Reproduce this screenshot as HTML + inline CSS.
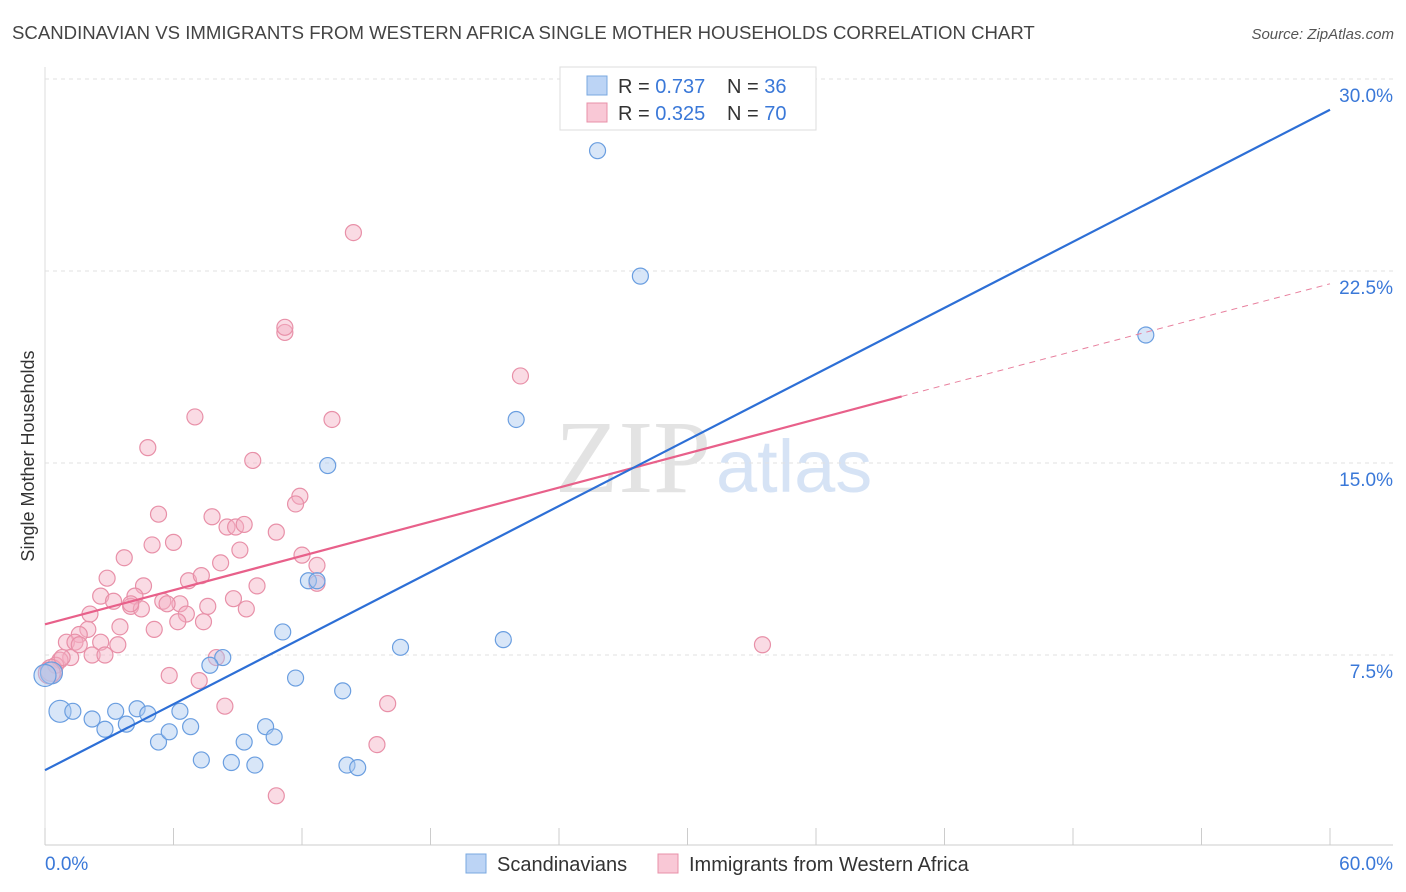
<!DOCTYPE html>
<html><head><meta charset="utf-8">
<style>
body{margin:0;background:#fff;font-family:"Liberation Sans",sans-serif;}
svg{display:block}
</style></head>
<body>
<svg id="chart" width="1406" height="892">
<text x="12" y="39" font-size="18.6" fill="#444">SCANDINAVIAN VS IMMIGRANTS FROM WESTERN AFRICA SINGLE MOTHER HOUSEHOLDS CORRELATION CHART</text>
<text x="1394" y="39" font-size="15" fill="#555" font-style="italic" text-anchor="end">Source: ZipAtlas.com</text>
<text transform="translate(34,456) rotate(-90)" font-size="18" fill="#333" text-anchor="middle">Single Mother Households</text>
<g opacity="0.4">
<text x="555" y="492" font-size="104" font-family="Liberation Serif,serif" fill="#bbb">ZIP</text>
<text x="716" y="492" font-size="74" fill="#9bbbe8">atlas</text>
</g>
<g id="grid"></g>
<g id="axes"></g>
<g id="pts"></g>
<g id="lines"></g>
<g>
<rect x="560" y="67" width="256" height="63" fill="#fff" stroke="#ddd"/>
<rect x="587" y="76" width="20" height="19" fill="#bcd4f5" stroke="#7aa8e0"/>
<rect x="587" y="103" width="20" height="19" fill="#f9c8d6" stroke="#e890a8"/>
<text x="618" y="93" font-size="20" fill="#333">R = <tspan fill="#3a78d8">0.737</tspan></text>
<text x="727" y="93" font-size="20" fill="#333">N = <tspan fill="#3a78d8">36</tspan></text>
<text x="618" y="120" font-size="20" fill="#333">R = <tspan fill="#3a78d8">0.325</tspan></text>
<text x="727" y="120" font-size="20" fill="#333">N = <tspan fill="#3a78d8">70</tspan></text>
</g>
<g>
<rect x="466" y="854" width="20" height="19" fill="#bcd4f5" stroke="#7aa8e0"/>
<text x="497" y="871" font-size="20" fill="#333">Scandinavians</text>
<rect x="658" y="854" width="20" height="19" fill="#f9c8d6" stroke="#e890a8"/>
<text x="689" y="871" font-size="20" fill="#333">Immigrants from Western Africa</text>
</g>
</svg>
<script>
const yTicks=[7.5,15.0,22.5,30.0];
const yTickLabels=["7.5%","15.0%","22.5%","30.0%"];
const xTickLabels=["0.0%","60.0%"];
const blueX=[25.8,27.8,51.4,22.0,13.2,12.3,12.7,21.4,16.6,11.1,8.3,7.7,11.7,13.9,0.3,0.7,1.3,2.2,2.8,3.3,3.8,4.3,4.8,6.3,5.3,5.8,6.8,7.3,8.7,9.3,9.8,10.3,10.7,14.1,14.6,0.0];
const blueY=[27.2,22.3,20.0,16.7,14.9,10.4,10.4,8.1,7.8,8.4,7.4,7.1,6.6,6.1,6.8,5.3,5.3,5.0,4.6,5.3,4.8,5.4,5.2,5.3,4.1,4.5,4.7,3.4,3.3,4.1,3.2,4.7,4.3,3.2,3.1,6.7];
const pinkX=[14.4,11.2,11.2,22.2,7.0,13.4,4.8,9.7,11.9,11.7,5.3,7.8,8.5,8.9,9.3,10.8,5.0,6.0,9.1,12.0,3.7,2.9,8.2,12.7,6.7,7.3,4.6,9.9,12.7,8.8,2.6,3.2,4.2,4.0,5.5,6.3,4.5,7.6,9.4,2.1,6.6,6.2,7.4,3.5,5.1,2.0,1.6,1.0,2.6,1.4,3.4,2.2,2.8,1.2,0.7,0.5,0.3,5.8,7.2,8.0,8.4,16.0,15.5,10.8,33.5,0.8,1.6,5.7,4.0,0.2];
const pinkY=[24.0,20.1,20.3,18.4,16.8,16.7,15.6,15.1,13.7,13.4,13.0,12.9,12.5,12.5,12.6,12.3,11.8,11.9,11.6,11.4,11.3,10.5,11.1,11.0,10.4,10.6,10.2,10.2,10.3,9.7,9.8,9.6,9.8,9.4,9.6,9.5,9.3,9.4,9.3,9.1,9.1,8.8,8.8,8.6,8.5,8.5,8.3,8.0,8.0,8.0,7.9,7.5,7.5,7.4,7.3,7.1,6.9,6.7,6.5,7.4,5.5,5.6,4.0,2.0,7.9,7.4,7.9,9.5,9.5,6.8];
const blueLine=[[0,3.0],[60,28.8]];
const pinkLine=[[0,8.7],[40,17.6]];
const pinkDash=[[40,17.6],[60,22.0]];
const NS="http://www.w3.org/2000/svg";
const X=v=>45+v*(1285/60);
const Y=v=>847-v*25.6;
function mk(tag,attrs,parent){const e=document.createElementNS(NS,tag);for(const k in attrs)e.setAttribute(k,attrs[k]);parent.appendChild(e);return e;}
const grid=document.getElementById('grid'),axes=document.getElementById('axes'),pts=document.getElementById('pts'),lines=document.getElementById('lines');
yTicks.forEach((t,i)=>{
 const l=mk('line',{x1:45,x2:1393,y1:Y(t),y2:Y(t),stroke:'#e2e2e2','stroke-dasharray':'4,4'},grid);
 
 
 const tx=mk('text',{x:1393,y:Y(t)+23,'font-size':19,fill:'#3a78d8','text-anchor':'end'},axes);
 tx.textContent=yTickLabels[i];
 
 
});
const ax=mk('line',{x1:45,x2:45,y1:67,y2:845,stroke:'#ddd'},axes);


const xa=mk('line',{x1:45,x2:1393,y1:845,y2:845,stroke:'#ccc'},axes);


for(let k=0;k<=10;k++){
 const t=mk('line',{x1:X(k*6),x2:X(k*6),y1:828,y2:845,stroke:'#ccc'},axes);
 
 
}
[[0,'start',45],[1,'end',1393]].forEach(([i,a,x])=>{
 const t=mk('text',{x:x,y:870,'font-size':19,fill:'#3a78d8','text-anchor':a},axes);
 t.textContent=xTickLabels[i];
 
 
});
function dots(xs,ys,fill,stroke,name){
 xs.forEach((v,i)=>{
  const big=(v<0.5&&ys[i]>6.5&&ys[i]<7)||(name==='scandinavian-point'&&v===0.7);
  const c=mk('circle',{cx:X(v),cy:Y(ys[i]),r:big?11:8,fill:fill,'fill-opacity':0.45,stroke:stroke,'stroke-width':1.2},pts);
  
  
 });
}
dots(pinkX,pinkY,'#f5b0c4','#e890a8','immigrant-point');
dots(blueX,blueY,'#a8c8f0','#6a9ee0','scandinavian-point');
function ln(p,st,w,dash,name){
 const l=mk('line',{x1:X(p[0][0]),y1:Y(p[0][1]),x2:X(p[1][0]),y2:Y(p[1][1]),stroke:st,'stroke-width':w},lines);
 if(dash)l.setAttribute('stroke-dasharray',dash);
 
 
}
ln(pinkLine,'#e8608a',2.2,null,'immigrants-trend-line');
ln(pinkDash,'#e8809e',1,'6,5','immigrants-trend-extension');
ln(blueLine,'#2d6fd6',2.2,null,'scandinavians-trend-line');
</script>
</body></html>
